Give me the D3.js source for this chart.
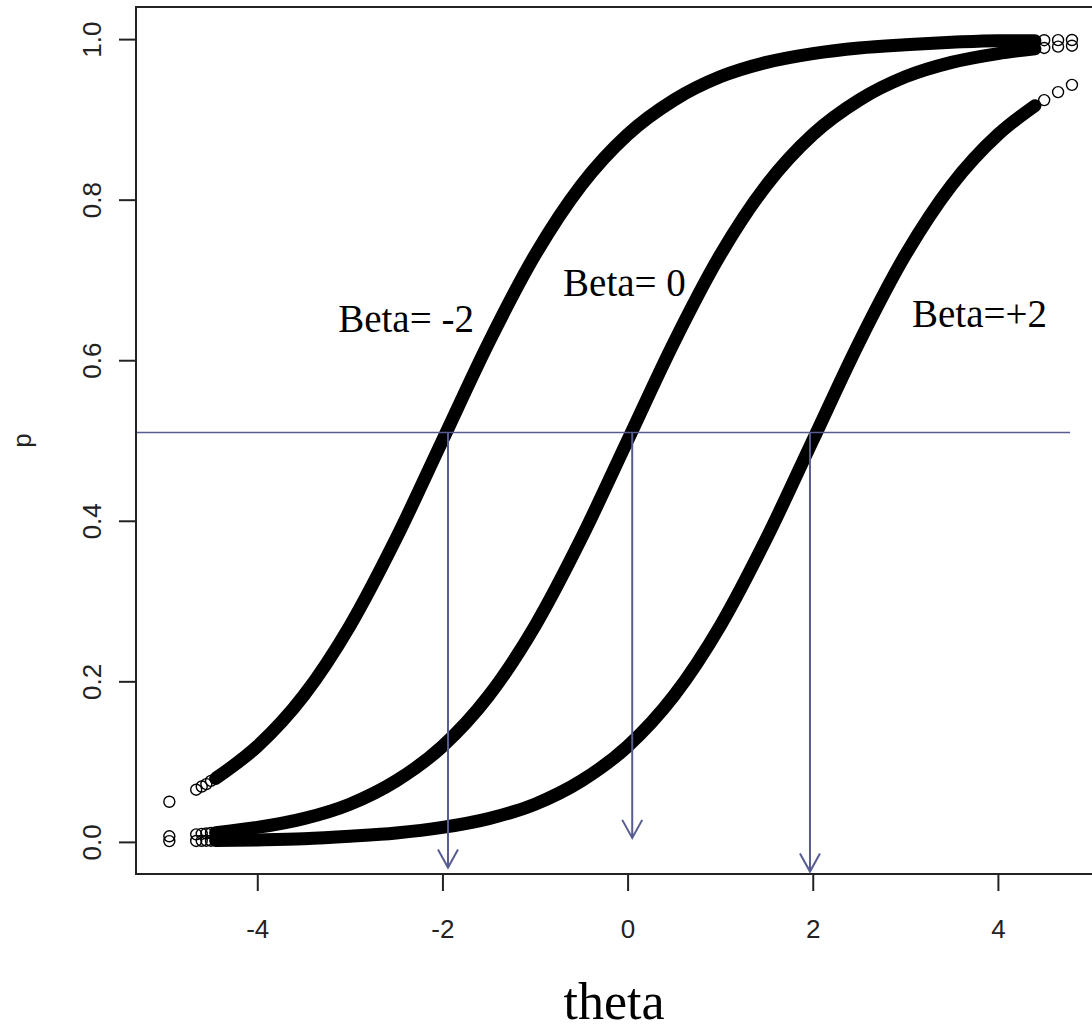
<!DOCTYPE html>
<html lang="en">
<head>
	<meta charset="UTF-8">
	<title>Item characteristic curves</title>
	<script src="https://cdn.jsdelivr.net/npm/d3@7"></script>
	<style>
	body {
		margin: 0;
		background-color: #ffffff;
	}
	.tick-label {
		font-family: "Liberation Sans", Arial, sans-serif;
		font-size: 26px;
		fill: #222;
	}
	.beta-label {
		font-family: "Liberation Serif", Georgia, serif;
		font-size: 39px;
		fill: #000;
	}
	</style>
</head>
<body>
<div id="chart"></div>

<script>
	// theta values where the dense band of points is drawn
	var thetaBand = [-4.45, -4, -3.5, -3, -2.5, -2, -1.5, -1, -0.5, 0, 0.5, 1, 1.5, 2, 2.5, 3, 3.5, 4, 4.4];

	// p for each curve (same theta values)
	var pBetaMinus2 = [0.079, 0.119, 0.182, 0.269, 0.378, 0.500, 0.622, 0.731, 0.818, 0.881, 0.924, 0.953, 0.971, 0.982, 0.989, 0.993, 0.996, 0.998, 0.998];
	var pBeta0      = [0.0115, 0.018, 0.029, 0.047, 0.076, 0.119, 0.182, 0.269, 0.378, 0.500, 0.622, 0.731, 0.818, 0.881, 0.924, 0.953, 0.971, 0.982, 0.988];
	var pBetaPlus2  = [0.0016, 0.0025, 0.004, 0.007, 0.011, 0.018, 0.029, 0.047, 0.076, 0.119, 0.182, 0.269, 0.378, 0.500, 0.622, 0.731, 0.818, 0.881, 0.917];

	// the few separate circles at both ends
	var thetaSparse = [-4.95, -4.66, -4.6, -4.55, -4.5, 4.5, 4.65, 4.8];
	var sparseBetaMinus2 = [0.050, 0.065, 0.069, 0.072, 0.076, 0.9986, 0.9987, 0.9989];
	var sparseBeta0      = [0.007, 0.0094, 0.010, 0.0105, 0.011, 0.989, 0.9906, 0.9918];
	var sparseBetaPlus2  = [0.001, 0.0012, 0.0014, 0.0015, 0.0015, 0.924, 0.934, 0.943];

	var xTicks = [-4, -2, 0, 2, 4];
	var yTicks = [0, 0.2, 0.4, 0.6, 0.8, 1.0];

	// reference line and arrows
	var refP = 0.51;
	var refLineEnd = 4.78;
	var arrowTheta = [-1.94, 0.05, 1.97];
	var arrowTipP = [-0.032, 0.005, -0.037];

	var labelText = ['Beta= -2', 'Beta= 0', 'Beta=+2'];
	var labelTheta = [-3.126, -0.697, 3.072];
	var labelP = [0.635, 0.680, 0.641];

	var W = 1092, H = 1032;
	var plotL = 136, plotR = 1109, plotT = 7, plotB = 874;
	var ink = '#222';
	var refColor = '#585c93';

	var svg = d3.select('#chart')
		.append('svg')
		.attr('width', W)
		.attr('height', H);

	svg.append('rect')
		.attr('width', W)
		.attr('height', H)
		.attr('fill', '#ffffff');

	var x = d3.scaleLinear()
		.domain([-5.31, 5.2])
		.range([plotL, plotR]);

	var y = d3.scaleLinear()
		.domain([-0.04, 1.04])
		.range([plotB, plotT]);

	var series = [pBetaMinus2, pBeta0, pBetaPlus2];
	var sparse = [sparseBetaMinus2, sparseBeta0, sparseBetaPlus2];

	var line = d3.line()
		.x(function (d) { return x(d.theta); })
		.y(function (d) { return y(d.p); })
		.curve(d3.curveMonotoneX);

	series.forEach(function (ps) {
		var pts = thetaBand.map(function (t, i) {
			return {theta: t, p: ps[i]};
		});
		svg.append('path')
			.datum(pts)
			.attr('d', line)
			.attr('fill', 'none')
			.attr('stroke', '#000')
			.attr('stroke-width', 13)
			.attr('stroke-linecap', 'round')
			.attr('stroke-linejoin', 'round');
	});

	sparse.forEach(function (ps) {
		svg.selectAll(null)
			.data(thetaSparse.map(function (t, i) { return {theta: t, p: ps[i]}; }))
			.enter().append('circle')
			.attr('cx', function (d) { return x(d.theta); })
			.attr('cy', function (d) { return y(d.p); })
			.attr('r', 5.5)
			.attr('fill', 'none')
			.attr('stroke', '#000')
			.attr('stroke-width', 1.4);
	});

	// horizontal line at p = 0.51
	svg.append('line')
		.attr('x1', x.range()[0])
		.attr('x2', x(refLineEnd))
		.attr('y1', y(refP))
		.attr('y2', y(refP))
		.attr('stroke', refColor)
		.attr('stroke-width', 1.6);

	// arrows down to the theta axis
	svg.selectAll('.arrow')
		.data(arrowTheta.map(function (t, i) { return {theta: t, tip: arrowTipP[i]}; }))
		.enter().append('path')
		.attr('class', 'arrow')
		.attr('d', function (d) {
			var ax = x(d.theta), ty = y(d.tip);
			return 'M' + ax + ',' + y(refP) + 'V' + ty +
				'M' + (ax - 10) + ',' + (ty - 18) + 'L' + ax + ',' + ty + 'L' + (ax + 10) + ',' + (ty - 18);
		})
		.attr('fill', 'none')
		.attr('stroke', refColor)
		.attr('stroke-width', 2);

	// box
	svg.append('rect')
		.attr('x', plotL)
		.attr('y', plotT)
		.attr('width', plotR - plotL)
		.attr('height', plotB - plotT)
		.attr('fill', 'none')
		.attr('stroke', ink)
		.attr('stroke-width', 2);

	var gx = svg.append('g')
		.attr('transform', 'translate(0,' + plotB + ')')
		.call(d3.axisBottom(x).tickValues(xTicks).tickSize(17).tickFormat(d3.format('d')));
	gx.select('.domain').remove();
	gx.selectAll('line').attr('stroke', ink).attr('stroke-width', 2);
	gx.selectAll('text')
		.attr('class', 'tick-label')
		.attr('y', 64)
		.attr('dy', null)
		.text(function (d) { return d < 0 ? '-' + Math.abs(d) : d; });

	var gy = svg.append('g')
		.attr('transform', 'translate(' + plotL + ',0)')
		.call(d3.axisLeft(y).tickValues(yTicks).tickSize(17).tickFormat(d3.format('.1f')));
	gy.select('.domain').remove();
	gy.selectAll('line').attr('stroke', ink).attr('stroke-width', 2);
	gy.selectAll('text')
		.attr('class', 'tick-label')
		.attr('transform', 'rotate(-90)')
		.attr('x', 0)
		.attr('y', -35)
		.attr('dy', null)
		.attr('text-anchor', 'middle');

	svg.append('text')
		.attr('class', 'tick-label')
		.attr('transform', 'translate(31,' + ((plotT + plotB) / 2) + ') rotate(-90)')
		.attr('text-anchor', 'middle')
		.text('p');

	svg.append('text')
		.attr('x', 614)
		.attr('y', 1019)
		.attr('text-anchor', 'middle')
		.style('font-family', '"Liberation Serif", Georgia, serif')
		.style('font-size', '52px')
		.text('theta');

	svg.selectAll('.beta-label')
		.data(labelText)
		.enter().append('text')
		.attr('class', 'beta-label')
		.attr('x', function (d, i) { return x(labelTheta[i]); })
		.attr('y', function (d, i) { return y(labelP[i]); })
		.text(function (d) { return d; });
</script>
</body>
</html>
